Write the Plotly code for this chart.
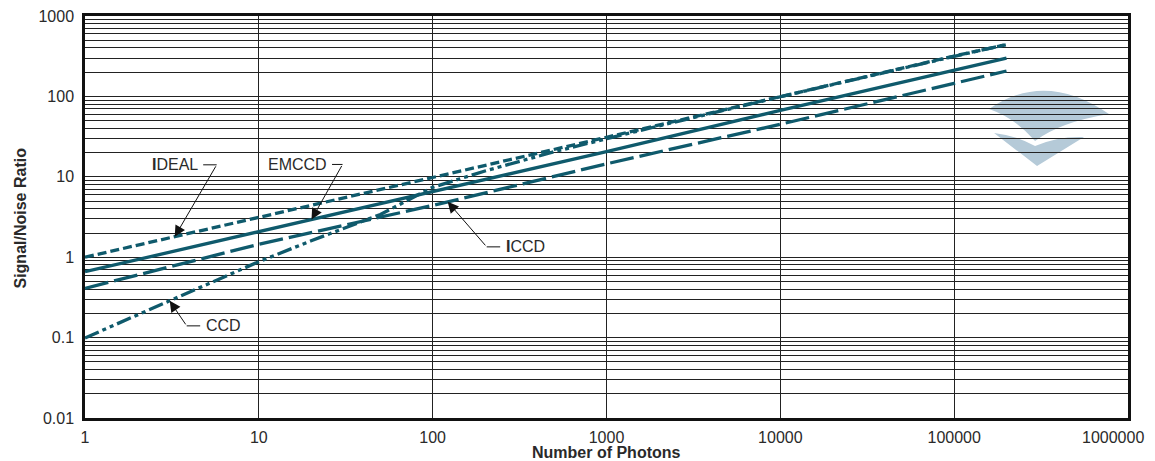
import numpy as np
import plotly.graph_objects as go

# ---------------- data ----------------
photons = [1, 10, 100, 1000, 10000, 100000, 200000]
snr_ideal = [1.0, 3.1, 9.8, 31, 99.5, 318, 440]
snr_emccd = [0.66, 2.09, 6.5, 20.6, 67, 209, 300]
snr_iccd = [0.41, 1.45, 4.4, 14.5, 45, 145, 207]

photons_ccd = [1, 2, 3, 5, 10, 20, 30, 50, 100, 200, 500, 1000, 2000, 5000, 10000, 100000, 200000]
snr_ccd = [0.099, 0.19, 0.28, 0.46, 0.88, 1.6, 2.25, 3.4, 7.4, 11.8, 20.5, 30, 43, 69, 99, 315, 442]

x_tick_vals = [1, 10, 100, 1000, 10000, 100000, 1000000]
x_tick_text = ["1", "10", "100", "1000", "10000", "100000", "1000000"]
y_tick_vals = [0.01, 0.1, 1, 10, 100, 1000]
y_tick_text = ["0.01", "0.1", "1", "10", "100", "1000"]

# ---------------- style ----------------
W, H = 1155, 461
ML, MR, MT, MB = 84.5, 27, 16, 43
LINE = "#0f5a6c"
FONT = "Liberation Sans, Arial, Helvetica, sans-serif"
TXT = "#2a2a2a"

fig = go.Figure()
series = [
    ("IDEAL", photons, snr_ideal, "9px,4px"),
    ("EMCCD", photons, snr_emccd, "solid"),
    ("ICCD", photons, snr_iccd, "24px,6px"),
    ("CCD", photons_ccd, snr_ccd, "15px,4px,4px,4px,4px,4px"),
]
for name, xs, ys, dash in series:
    fig.add_trace(go.Scatter(x=xs, y=ys, mode="lines", name=name,
                             line=dict(color=LINE, width=3.3, dash=dash),
                             showlegend=False, hoverinfo="skip"))


def on_curve(xs, ys, n):
    """log10 position of a point on a series (for annotation arrow tips)."""
    lx = np.log10(n)
    ly = np.interp(lx, np.log10(xs), np.log10(ys))
    return lx, ly


# label callouts: (text, series x, series y, tip N, kink offset px, leader end offset px, text anchor)
callouts = [
    ("<b>I</b>DEAL", photons, snr_ideal, 3.28, (42, -72), (27, -72), "right"),
    ("EMCCD", photons, snr_emccd, 20.1, (31, -55), (19, -55), "right"),
    ("<b>I</b>CCD", photons, snr_iccd, 122, (39, 45), (54, 45), "left"),
    ("CCD", photons_ccd, snr_ccd, 3.07, (17, 25), (32, 25), "left"),
]
for text, xs, ys, n, (kx, ky), (ex, ey), anchor in callouts:
    lx, ly = on_curve(xs, ys, n)
    fig.add_annotation(x=lx, y=ly, xref="x", yref="y", text="", showarrow=True,
                       ax=kx, ay=ky, arrowhead=2, arrowsize=2.2, arrowwidth=1,
                       arrowcolor="#111", standoff=0)
    fig.add_annotation(x=lx, y=ly, xref="x", yref="y", text="", showarrow=True,
                       xshift=kx, yshift=-ky, ax=ex - kx, ay=0, arrowhead=0,
                       arrowwidth=1, arrowcolor="#111", standoff=0)
    fig.add_annotation(x=lx, y=ly, xref="x", yref="y", text=text, showarrow=False,
                       xshift=ex + (2 if anchor == "left" else -2), yshift=-ey,
                       xanchor=anchor, yanchor="middle",
                       font=dict(family=FONT, size=16, color=TXT))

pw, ph = W - ML - MR, H - MT - MB
fig.add_annotation(x=0.5, y=(H - MB - 452) / ph, xref="paper", yref="paper",
                   text="<b>Number of Photons</b>", showarrow=False,
                   xanchor="center", yanchor="middle",
                   font=dict(family=FONT, size=16, color=TXT))
fig.add_annotation(x=(19 - ML) / pw, y=(H - MB - 218) / ph, xref="paper", yref="paper",
                   text="<b>Signal/Noise Ratio</b>", showarrow=False, textangle=-90,
                   xanchor="center", yanchor="middle",
                   font=dict(family=FONT, size=16, color=TXT))

# last x tick label sits inside the page (shifted left like the reference)
fig.add_annotation(x=np.log10(x_tick_vals[-1]), y=0, xref="x", yref="paper",
                   text=x_tick_text[-1], showarrow=False, xanchor="right", yanchor="middle",
                   xshift=18, yshift=-19,
                   font=dict(family=FONT, size=16, color=TXT))


def P(px, py):
    return f"{(px - ML) / pw:.5f},{(H - MB - py) / ph:.5f}"


logo_top = (f"M {P(989, 109)} Q {P(1045, 70)} {P(1109, 114)} "
            f"Q {P(1060, 122)} {P(1035, 141)} Q {P(1015, 118)} {P(989, 109)} Z")
logo_chev = (f"M {P(994, 133)} Q {P(1018, 136)} {P(1035, 146)} "
             f"Q {P(1058, 136)} {P(1084, 137)} L {P(1037, 166)} Z")
for path in (logo_top, logo_chev):
    fig.add_shape(type="path", path=path, xref="paper", yref="paper",
                  fillcolor="#b5cad8", line=dict(width=0), layer="below")

grid = "#222222"
x_text = x_tick_text[:-1] + [""]
fig.update_xaxes(type="log", range=[0, 6], tickvals=x_tick_vals, ticktext=x_text,
                 showgrid=True, gridcolor=grid, gridwidth=1, automargin=False,
                 showline=True, mirror=True, linecolor="#111", linewidth=2.5,
                 ticks="", ticklabelstandoff=3, ticklabeloverflow="allow",
                 tickfont=dict(family=FONT, size=16, color=TXT))
fig.update_yaxes(type="log", range=[-2, 3], tickmode="linear", tick0=0, dtick=1,
                 exponentformat="none", automargin=False,
                 showgrid=True, gridcolor=grid, gridwidth=1,
                 minor=dict(dtick="D1", showgrid=True, gridcolor=grid, gridwidth=1, ticks=""),
                 showline=True, mirror=True, linecolor="#111", linewidth=2.5,
                 ticks="", ticklabelstandoff=5, ticklabeloverflow="allow",
                 tickfont=dict(family=FONT, size=16, color=TXT))

fig.update_layout(width=W, height=H,
                  margin=dict(l=ML, r=MR, t=MT, b=MB, pad=0, autoexpand=False),
                  paper_bgcolor="white", plot_bgcolor="white",
                  font=dict(family=FONT))

fig.write_html("out.html", config={"displayModeBar": False},
               post_script="document.body.style.margin='0';document.body.style.overflow='hidden';")
